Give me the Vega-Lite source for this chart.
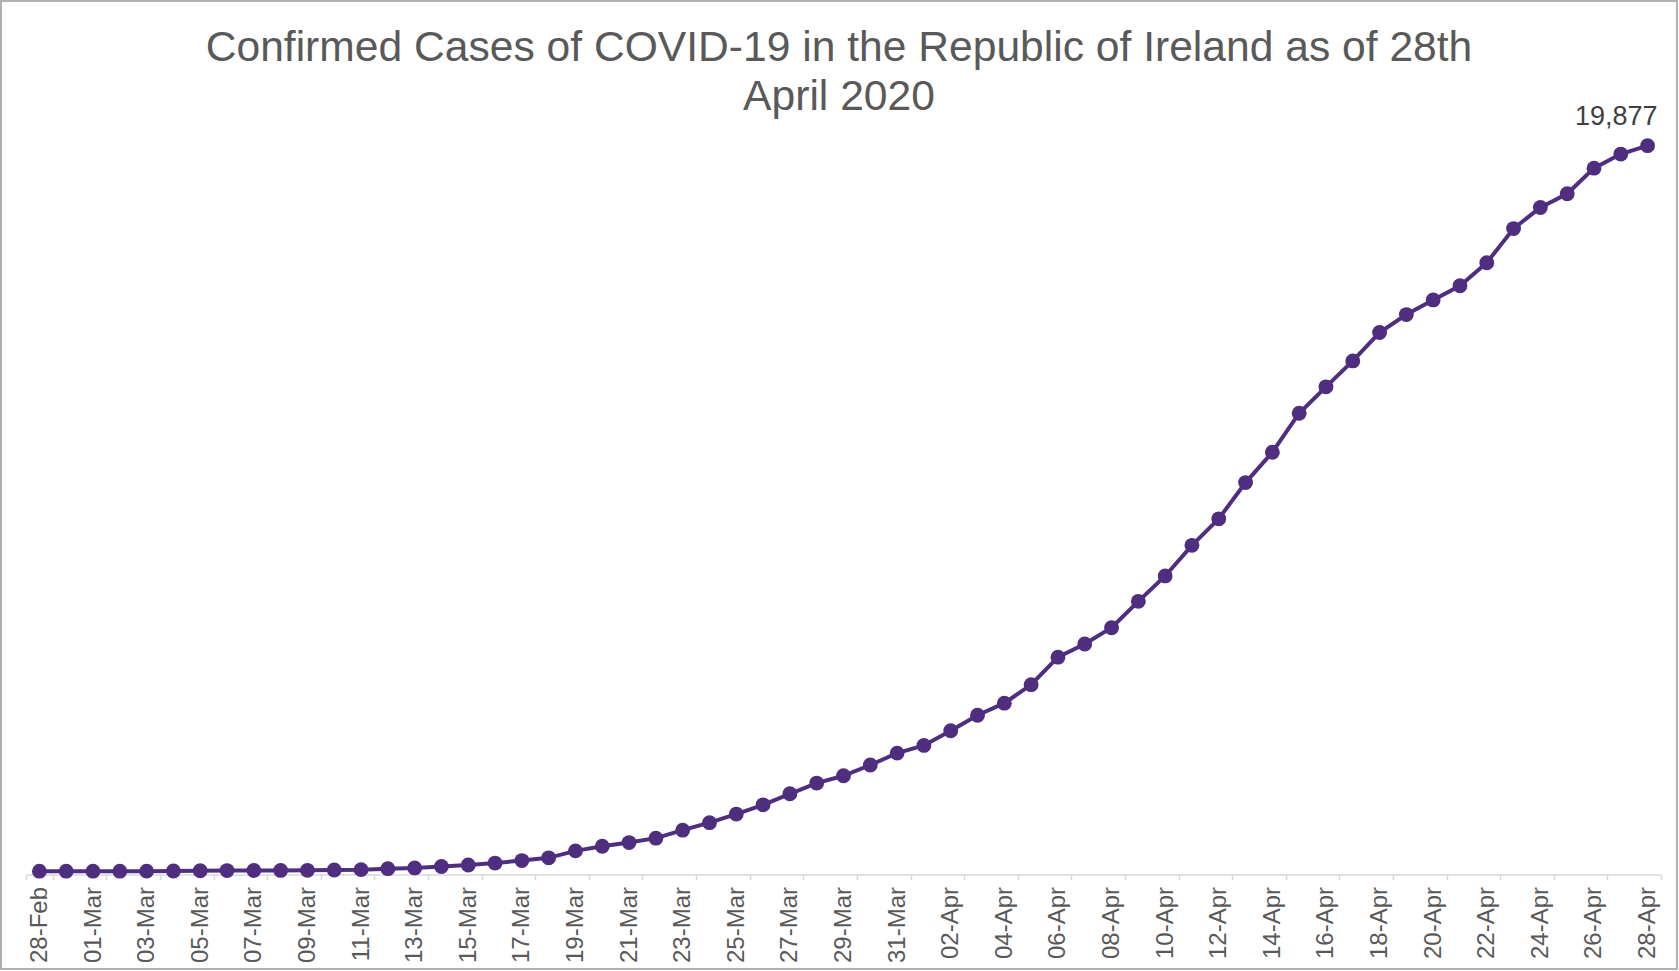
{
  "$schema": "https://vega.github.io/schema/vega-lite/v6.json",
  "width": 1676,
  "height": 968,
  "autosize": {"type": "none"},
  "padding": {"left": 1, "top": 1, "right": 2, "bottom": 2},
  "background": "white",
  "title": {
    "text": ["Confirmed Cases of COVID-19 in the Republic of Ireland as of 28th", "April 2020"],
    "font": "Liberation Sans",
    "fontSize": 42.6,
    "fontWeight": "normal",
    "color": "#595959",
    "lineHeight": 49,
    "anchor": "middle",
    "frame": "group",
    "offset": -118
  },
  "data": {
    "values": [
      {"date": "28-Feb", "cases": 0},
      {"date": "29-Feb", "cases": 1},
      {"date": "01-Mar", "cases": 1},
      {"date": "02-Mar", "cases": 1},
      {"date": "03-Mar", "cases": 2},
      {"date": "04-Mar", "cases": 6},
      {"date": "05-Mar", "cases": 13},
      {"date": "06-Mar", "cases": 18},
      {"date": "07-Mar", "cases": 19},
      {"date": "08-Mar", "cases": 21},
      {"date": "09-Mar", "cases": 24},
      {"date": "10-Mar", "cases": 34},
      {"date": "11-Mar", "cases": 43},
      {"date": "12-Mar", "cases": 70},
      {"date": "13-Mar", "cases": 90},
      {"date": "14-Mar", "cases": 129},
      {"date": "15-Mar", "cases": 169},
      {"date": "16-Mar", "cases": 223},
      {"date": "17-Mar", "cases": 292},
      {"date": "18-Mar", "cases": 366},
      {"date": "19-Mar", "cases": 557},
      {"date": "20-Mar", "cases": 683},
      {"date": "21-Mar", "cases": 785},
      {"date": "22-Mar", "cases": 906},
      {"date": "23-Mar", "cases": 1125},
      {"date": "24-Mar", "cases": 1329},
      {"date": "25-Mar", "cases": 1564},
      {"date": "26-Mar", "cases": 1819},
      {"date": "27-Mar", "cases": 2121},
      {"date": "28-Mar", "cases": 2415},
      {"date": "29-Mar", "cases": 2615},
      {"date": "30-Mar", "cases": 2910},
      {"date": "31-Mar", "cases": 3235},
      {"date": "01-Apr", "cases": 3447},
      {"date": "02-Apr", "cases": 3849},
      {"date": "03-Apr", "cases": 4273},
      {"date": "04-Apr", "cases": 4604},
      {"date": "05-Apr", "cases": 5111},
      {"date": "06-Apr", "cases": 5864},
      {"date": "07-Apr", "cases": 6224},
      {"date": "08-Apr", "cases": 6671},
      {"date": "09-Apr", "cases": 7393},
      {"date": "10-Apr", "cases": 8089},
      {"date": "11-Apr", "cases": 8928},
      {"date": "12-Apr", "cases": 9655},
      {"date": "13-Apr", "cases": 10647},
      {"date": "14-Apr", "cases": 11479},
      {"date": "15-Apr", "cases": 12547},
      {"date": "16-Apr", "cases": 13271},
      {"date": "17-Apr", "cases": 13980},
      {"date": "18-Apr", "cases": 14758},
      {"date": "19-Apr", "cases": 15251},
      {"date": "20-Apr", "cases": 15652},
      {"date": "21-Apr", "cases": 16040},
      {"date": "22-Apr", "cases": 16671},
      {"date": "23-Apr", "cases": 17607},
      {"date": "24-Apr", "cases": 18184},
      {"date": "25-Apr", "cases": 18561},
      {"date": "26-Apr", "cases": 19262},
      {"date": "27-Apr", "cases": 19648},
      {"date": "28-Apr", "cases": 19877}
    ]
  },
  "encoding": {
    "x": {
      "field": "date",
      "type": "ordinal",
      "sort": null,
      "bandPosition": 0.5,
      "scale": {"type": "band", "range": [25, 1660], "paddingInner": 0, "paddingOuter": 0},
      "axis": {
        "title": null,
        "offset": -94.5,
        "values": ["28-Feb", "01-Mar", "03-Mar", "05-Mar", "07-Mar", "09-Mar", "11-Mar", "13-Mar", "15-Mar", "17-Mar", "19-Mar", "21-Mar", "23-Mar", "25-Mar", "27-Mar", "29-Mar", "31-Mar", "02-Apr", "04-Apr", "06-Apr", "08-Apr", "10-Apr", "12-Apr", "14-Apr", "16-Apr", "18-Apr", "20-Apr", "22-Apr", "24-Apr", "26-Apr", "28-Apr"],
        "tickBand": "extent",
        "labelAngle": 270,
        "labelFont": "Liberation Sans",
        "labelFontSize": 24,
        "labelColor": "#595959",
        "labelPadding": 7,
        "labelOverlap": false,
        "labelBound": false,
        "labelFlush": false,
        "tickSize": 5,
        "tickWidth": 1.5,
        "tickColor": "#d9d9d9",
        "domainColor": "#d9d9d9",
        "domainWidth": 1.5,
        "grid": false
      }
    },
    "y": {
      "field": "cases",
      "type": "quantitative",
      "scale": {"domain": [0, 19877], "range": [870.2, 144.7], "nice": false, "zero": true},
      "axis": null
    }
  },
  "layer": [
    {
      "mark": {
        "type": "line",
        "color": "#4F2D7F",
        "strokeWidth": 4,
        "point": {"filled": true, "size": 220, "color": "#4F2D7F", "opacity": 1}
      }
    },
    {
      "transform": [{"filter": "datum.date === '28-Apr'"}],
      "mark": {
        "type": "text",
        "font": "Liberation Sans",
        "fontSize": 27,
        "color": "#404040",
        "align": "right",
        "baseline": "alphabetic",
        "dx": 10,
        "dy": -21
      },
      "encoding": {
        "text": {"field": "cases", "type": "quantitative", "format": ","}
      }
    }
  ],
  "config": {
    "view": {"stroke": "#b0b0b0", "strokeWidth": 2}
  }
}
